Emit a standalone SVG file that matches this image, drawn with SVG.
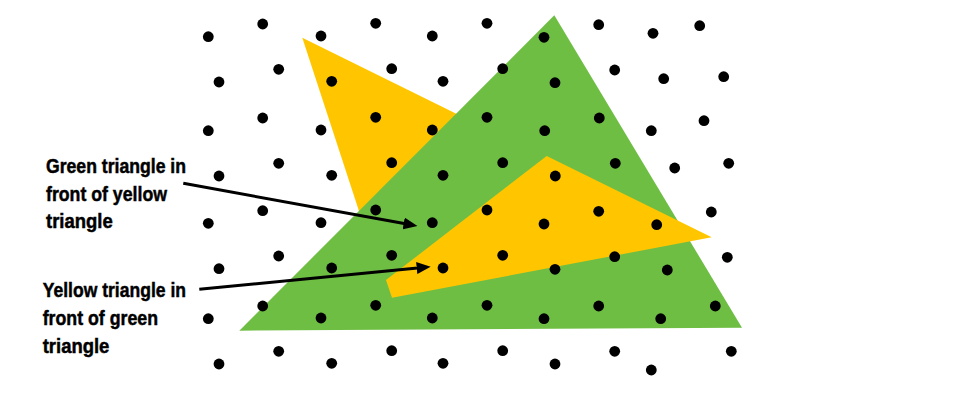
<svg xmlns="http://www.w3.org/2000/svg" width="955" height="408" viewBox="0 0 955 408">
<style>
.g{fill:#6fbe44}
.y{fill:#ffc600}
.d circle{fill:#000}
.lbl{font-family:"Liberation Sans Narrow","Liberation Sans",Arial,sans-serif;font-weight:bold;font-size:21px;fill:#000;stroke:#000;stroke-width:0.5}
.ar{stroke:#000;stroke-width:3;fill:none;marker-end:url(#ah)}
</style>
<defs>
<marker id="ah" markerUnits="userSpaceOnUse" markerWidth="14" markerHeight="12" refX="6" refY="6" orient="auto">
<path d="M0,0 L14,6 L0,12 z" fill="#000"/>
</marker>
</defs>
<rect width="955" height="408" fill="#fff"/>
<g id="yellow-back"><polygon class="y" points="302.3,37.7 560,165 375,260"/></g>
<g id="green-triangle"><polygon class="g" points="554.3,15.3 742,327.7 239.3,330.7"/></g>
<g id="yellow-front"><polygon class="y" points="546.7,156 711.7,237.3 392,297.7 386,280"/></g>
<g id="dots" class="d">
<circle cx="208.3" cy="36.7" r="5.4"/><circle cx="262.7" cy="24" r="5.4"/><circle cx="321" cy="36" r="5.4"/><circle cx="375.7" cy="23.3" r="5.4"/><circle cx="432.3" cy="36" r="5.4"/>
<circle cx="219" cy="82" r="5.4"/><circle cx="278.7" cy="69.3" r="5.4"/><circle cx="331.7" cy="81.3" r="5.4"/><circle cx="391.7" cy="68.7" r="5.4"/><circle cx="443" cy="81.3" r="5.4"/>
<circle cx="208.3" cy="130.7" r="5.4"/><circle cx="262.7" cy="118" r="5.4"/><circle cx="321" cy="130" r="5.4"/><circle cx="375.7" cy="117.3" r="5.4"/><circle cx="432.3" cy="130" r="5.4"/>
<circle cx="219" cy="176" r="5.4"/><circle cx="278.7" cy="163.3" r="5.4"/><circle cx="331.7" cy="175.3" r="5.4"/><circle cx="391.7" cy="162.7" r="5.4"/><circle cx="443" cy="175.3" r="5.4"/>
<circle cx="487" cy="23.3" r="5.4"/><circle cx="544" cy="37.3" r="5.4"/><circle cx="598.7" cy="24.7" r="5.4"/><circle cx="653" cy="33.3" r="5.4"/><circle cx="699.7" cy="25.7" r="5.4"/>
<circle cx="502.7" cy="68.7" r="5.4"/><circle cx="555" cy="82.7" r="5.4"/><circle cx="614.7" cy="70" r="5.4"/><circle cx="663.7" cy="78.7" r="5.4"/><circle cx="723.7" cy="76.7" r="5.4"/>
<circle cx="487" cy="117.3" r="5.4"/><circle cx="544.7" cy="130.7" r="5.4"/><circle cx="599.3" cy="118" r="5.4"/><circle cx="651.3" cy="130.7" r="5.4"/><circle cx="704" cy="120.7" r="5.4"/>
<circle cx="502.7" cy="162.7" r="5.4"/><circle cx="555.3" cy="176" r="5.4"/><circle cx="615.3" cy="163.3" r="5.4"/><circle cx="674.7" cy="168" r="5.4"/><circle cx="728.7" cy="163.3" r="5.4"/>
<circle cx="262.7" cy="210.7" r="5.4"/><circle cx="375.7" cy="210" r="5.4"/><circle cx="208.3" cy="223.3" r="5.4"/><circle cx="321" cy="222.7" r="5.4"/><circle cx="432.3" cy="222.7" r="5.4"/>
<circle cx="278.7" cy="256" r="5.4"/><circle cx="391.7" cy="255.3" r="5.4"/><circle cx="219" cy="268.7" r="5.4"/><circle cx="331.7" cy="268" r="5.4"/><circle cx="443" cy="268" r="5.4"/>
<circle cx="262.7" cy="306" r="5.4"/><circle cx="375.7" cy="305.3" r="5.4"/><circle cx="208.3" cy="318.7" r="5.4"/><circle cx="321" cy="318" r="5.4"/><circle cx="432.3" cy="318" r="5.4"/>
<circle cx="278.7" cy="351.3" r="5.4"/><circle cx="391.7" cy="350.7" r="5.4"/><circle cx="219" cy="364" r="5.4"/><circle cx="331.7" cy="363.3" r="5.4"/><circle cx="443" cy="363.3" r="5.4"/>
<circle cx="487" cy="210" r="5.4"/><circle cx="598.7" cy="211.3" r="5.4"/><circle cx="711.3" cy="212" r="5.4"/><circle cx="544" cy="224" r="5.4"/><circle cx="656.7" cy="224.7" r="5.4"/>
<circle cx="502.7" cy="255.3" r="5.4"/><circle cx="614.7" cy="256.7" r="5.4"/><circle cx="727.3" cy="257.3" r="5.4"/><circle cx="555" cy="269.3" r="5.4"/><circle cx="667.3" cy="270" r="5.4"/>
<circle cx="487" cy="305.3" r="5.4"/><circle cx="598.7" cy="306" r="5.4"/><circle cx="715.3" cy="306" r="5.4"/><circle cx="544" cy="318.7" r="5.4"/><circle cx="660.7" cy="318.7" r="5.4"/>
<circle cx="502.7" cy="350.7" r="5.4"/><circle cx="614.7" cy="351.3" r="5.4"/><circle cx="731.3" cy="351.3" r="5.4"/><circle cx="555" cy="364" r="5.4"/><circle cx="651.3" cy="370" r="5.4"/>
</g>
<g id="connectors">
<line class="ar" x1="183.3" y1="183.3" x2="409.6" y2="224.6"/>
<line class="ar" x1="199.3" y1="289.3" x2="422.7" y2="267.5"/>
</g>
<g id="label-green-front">
<text class="lbl" x="46" y="173.3" textLength="140" lengthAdjust="spacingAndGlyphs">Green triangle in</text>
<text class="lbl" x="46" y="200.8" textLength="121" lengthAdjust="spacingAndGlyphs">front of yellow</text>
<text class="lbl" x="46" y="228.3" textLength="66.7" lengthAdjust="spacingAndGlyphs">triangle</text>
</g>
<g id="label-yellow-front">
<text class="lbl" x="42.7" y="296.7" textLength="143.3" lengthAdjust="spacingAndGlyphs">Yellow triangle in</text>
<text class="lbl" x="42.7" y="325" textLength="115.3" lengthAdjust="spacingAndGlyphs">front of green</text>
<text class="lbl" x="42.7" y="353.3" textLength="66.7" lengthAdjust="spacingAndGlyphs">triangle</text>
</g>
</svg>
